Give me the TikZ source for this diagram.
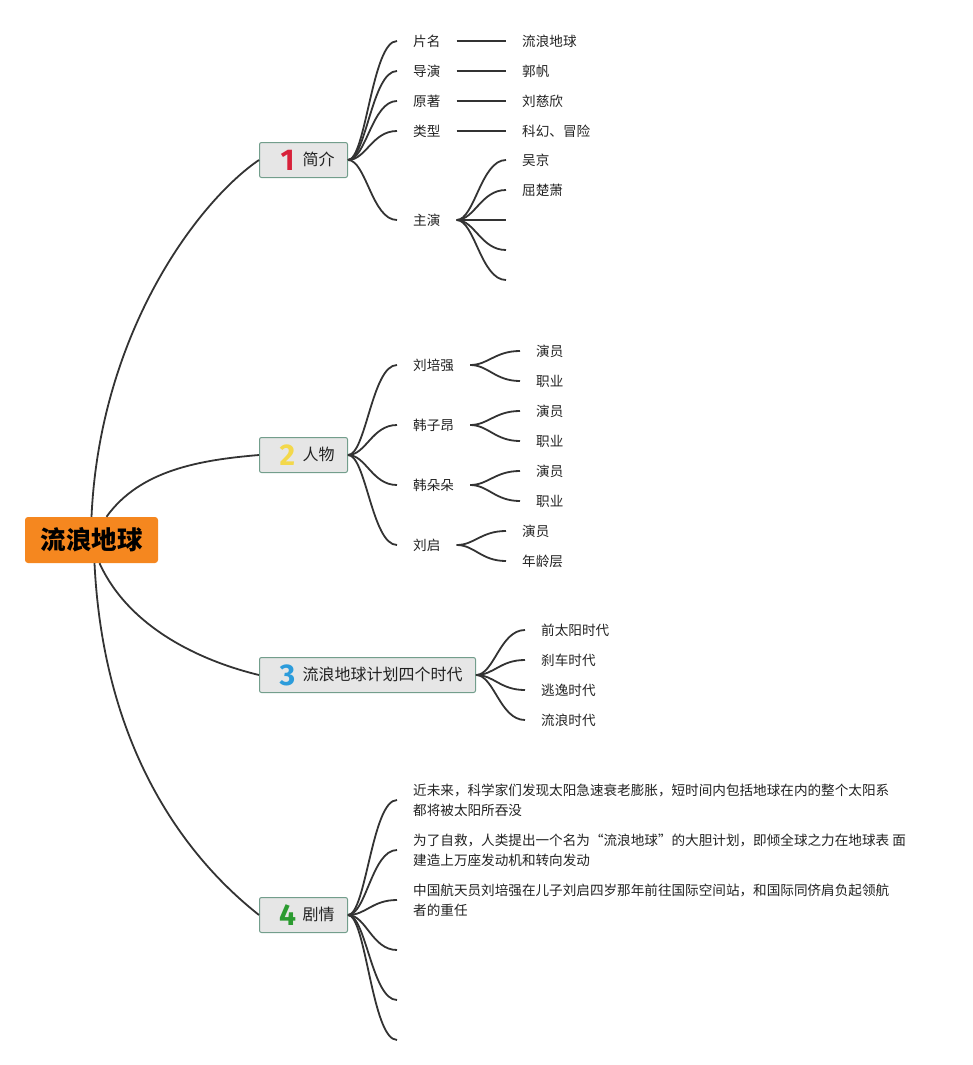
\documentclass[tikz,border=0pt]{standalone}
\usepackage{fontspec}
\setmainfont{Noto Sans CJK SC}
\newfontfamily\numfont{Fira Sans}
\usepackage{tikz}
\definecolor{rootorange}{HTML}{F5871F}
\definecolor{boxgray}{HTML}{E6E6E6}
\definecolor{boxline}{HTML}{739E8C}
\definecolor{linkgray}{HTML}{333333}
\definecolor{textgray}{HTML}{222222}
\definecolor{numred}{HTML}{D8213A}
\definecolor{numyellow}{HTML}{F3D84B}
\definecolor{numblue}{HTML}{2C9CDB}
\definecolor{numgreen}{HTML}{2B9B30}
\newcommand{\NUM}[2]{\raisebox{-5pt}{\makebox[16pt]{\numfont\bfseries\fontsize{30}{30}\selectfont\textcolor{#1}{#2}}}}
\newcommand{\twig}[2]{\draw[link] (#1) .. controls +(18,0) and +(-25,0) .. (#2);}
\tikzset{
  root/.style={fill=rootorange, rounded corners=3pt, minimum width=133pt,
    minimum height=46pt, inner sep=0pt, font=\bfseries\fontsize{25.5}{26}\selectfont},
  topic/.style={draw=boxline, fill=boxgray, rounded corners=2pt, line width=1pt,
    minimum height=35pt, inner sep=0pt, anchor=west, text=textgray,
    font=\fontsize{16}{16}\selectfont},
  leaf/.style={anchor=west, inner xsep=16pt, inner ysep=2pt, text=textgray,
    font=\fontsize{13.6}{20}\selectfont},
  link/.style={draw=linkgray, line width=1.8pt},
}
\begin{document}
\begin{tikzpicture}[x=1pt,y=-1pt]
\useasboundingbox (0,0) rectangle (973,1065); %% page size

%% root and the four topics
\node[root] (root) at (91.5,540) {流浪地球};
\node[topic] (b1) at (259,160) {\kern20pt\NUM{numred}{1}\kern7pt简介\kern13pt};
\node[topic] (b2) at (259,455) {\kern20pt\NUM{numyellow}{2}\kern7pt人物\kern13pt};
\node[topic] (b3) at (259,675) {\kern20pt\NUM{numblue}{3}\kern7pt流浪地球计划四个时代\kern13pt};
\node[topic] (b4) at (259,915) {\kern20pt\NUM{numgreen}{4}\kern7pt剧情\kern13pt};

\draw[link] (root.north) .. controls (100,330) and (200,200) .. (b1.west);
\draw[link] ([xshift=15pt]root.north) .. controls (140,470) and (200,460) .. (b2.west);
\draw[link] ([xshift=8pt]root.south) .. controls (130,630) and (205,662) .. (b3.west);
\draw[link] ([xshift=3pt]root.south) .. controls (105,780) and (215,880) .. (b4.west);

%% 1 简介
\node[leaf] (n1) at (397,41) {片名};
\node[leaf] (n2) at (397,71) {导演};
\node[leaf] (n3) at (397,101) {原著};
\node[leaf] (n4) at (397,131) {类型};
\node[leaf] (n5) at (397,220) {主演};
\node[leaf] (v1) at (506,41) {流浪地球};
\node[leaf] (v2) at (506,71) {郭帆};
\node[leaf] (v3) at (506,101) {刘慈欣};
\node[leaf] (v4) at (506,131) {科幻、冒险};
\node[leaf] (s1) at (506,160) {吴京};
\node[leaf] (s2) at (506,190) {屈楚萧};
\coordinate (s3) at (506,220);
\coordinate (s4) at (506,250);
\coordinate (s5) at (506,280);

\twig{b1.east}{n1.west} \twig{b1.east}{n2.west} \twig{b1.east}{n3.west}
\twig{b1.east}{n4.west} \twig{b1.east}{n5.west}
\draw[link] (n1.east) -- (v1.west);
\draw[link] (n2.east) -- (v2.west);
\draw[link] (n3.east) -- (v3.west);
\draw[link] (n4.east) -- (v4.west);
\twig{n5.east}{s1.west} \twig{n5.east}{s2.west} \twig{n5.east}{s3}
\twig{n5.east}{s4} \twig{n5.east}{s5}

%% 2 人物
\node[leaf] (p1) at (397,365) {刘培强};
\node[leaf] (p2) at (397,425) {韩子昂};
\node[leaf] (p3) at (397,485) {韩朵朵};
\node[leaf] (p4) at (397,545) {刘启};
\node[leaf] (p1a) at (520,351) {演员};
\node[leaf] (p1b) at (520,381) {职业};
\node[leaf] (p2a) at (520,411) {演员};
\node[leaf] (p2b) at (520,441) {职业};
\node[leaf] (p3a) at (520,471) {演员};
\node[leaf] (p3b) at (520,501) {职业};
\node[leaf] (p4a) at (506,531) {演员};
\node[leaf] (p4b) at (506,561) {年龄层};

\twig{b2.east}{p1.west} \twig{b2.east}{p2.west}
\twig{b2.east}{p3.west} \twig{b2.east}{p4.west}
\twig{p1.east}{p1a.west} \twig{p1.east}{p1b.west}
\twig{p2.east}{p2a.west} \twig{p2.east}{p2b.west}
\twig{p3.east}{p3a.west} \twig{p3.east}{p3b.west}
\twig{p4.east}{p4a.west} \twig{p4.east}{p4b.west}

%% 3 四个时代
\node[leaf] (e1) at (525,630) {前太阳时代};
\node[leaf] (e2) at (525,660) {刹车时代};
\node[leaf] (e3) at (525,690) {逃逸时代};
\node[leaf] (e4) at (525,720) {流浪时代};
\twig{b3.east}{e1.west} \twig{b3.east}{e2.west}
\twig{b3.east}{e3.west} \twig{b3.east}{e4.west}

%% 4 剧情
\node[leaf, align=left] (d1) at (397,800)
  {近未来，科学家们发现太阳急速衰老膨胀，短时间内包括地球在内的整个太阳系\\都将被太阳所吞没};
\node[leaf, align=left] (d2) at (397,850)
  {为了自救，人类提出一个名为“流浪地球”的大胆计划，即倾全球之力在地球表 面\\建造上万座发动机和转向发动};
\node[leaf, align=left] (d3) at (397,900)
  {中国航天员刘培强在儿子刘启四岁那年前往国际空间站，和国际同侪肩负起领航\\者的重任};
\coordinate (d4) at (397,950);
\coordinate (d5) at (397,1000);
\coordinate (d6) at (397,1040);
\twig{b4.east}{d1.west} \twig{b4.east}{d2.west} \twig{b4.east}{d3.west}
\twig{b4.east}{d4} \twig{b4.east}{d5} \twig{b4.east}{d6}

\end{tikzpicture}
\end{document}
